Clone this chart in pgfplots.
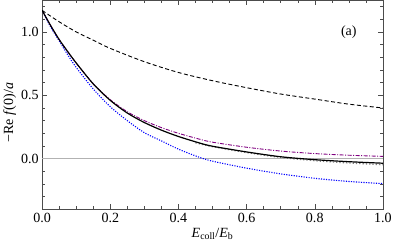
\documentclass[border=0pt]{standalone}
\usepackage{fontspec}
\setmainfont{Liberation Serif}
\usepackage{pgfplots}
\pgfplotsset{compat=1.18}
\definecolor{mmapurple}{rgb}{0.5,0,0.5}
\begin{document}
\begin{tikzpicture}
\begin{axis}[
scale only axis,
width=339bp,height=208bp,
xmin=0,xmax=1,ymin=-0.4,ymax=1.25,
xtick={0,0.2,...,1.0},
minor xtick={0.05,0.1,...,0.95},
ytick={0,0.5,1},
minor ytick={-0.3,-0.2,-0.1,0.1,0.2,0.3,0.4,0.6,0.7,0.8,0.9,1.1,1.2},
tick align=inside,
major tick length=5bp,
minor tick length=3bp,
tick pos=both,
xticklabel pos=bottom,
yticklabel pos=left,
axis line style={black!70,line width=0.5pt},
tick style={black!70,line width=0.4pt},
/pgf/number format/assume math mode=true,
xticklabel style={/pgf/number format/.cd,fixed,fixed zerofill,precision=1},
yticklabel style={/pgf/number format/.cd,fixed,fixed zerofill,precision=1},
ticklabel style={font=\fontsize{14}{16}\selectfont},
label style={font=\fontsize{14}{16}\selectfont},
xlabel={\textit{E}\textsubscript{coll}/\textit{E}\textsubscript{b}},
ylabel={−Re \textit{f}(0)/\textit{a}},
xlabel style={yshift=1bp},
ylabel style={yshift=-2bp,xshift=-8bp},
clip=true,
]
\addplot[gray!60,line width=0.5pt] coordinates {(0,0) (1,0)};
% gray dotted
\addplot[gray,dotted,line width=1.3pt,smooth] coordinates {
(0.45,0.125) (0.5,0.095) (0.6,0.048) (0.7,0.010) (0.8,-0.016) (0.9,-0.034) (1.0,-0.048)};
% blue dotted
\addplot[blue,dash pattern=on 1.1pt off 1.4pt,line width=1.1pt,smooth] coordinates {
(0,1.17) (0.025,1.04) (0.05,0.93) (0.075,0.82) (0.1,0.72) (0.15,0.55) (0.2,0.41)
(0.25,0.30) (0.3,0.205) (0.35,0.14) (0.4,0.075) (0.46,0.012) (0.5,-0.02)
(0.6,-0.075) (0.7,-0.12) (0.8,-0.155) (0.9,-0.18) (1.0,-0.197)};
% purple dash-dot
\addplot[mmapurple,dash pattern=on 4pt off 1.5pt on 1pt off 1.5pt,line width=0.9pt,smooth] coordinates {
(0,1.17) (0.025,1.05) (0.05,0.94) (0.075,0.845) (0.1,0.755) (0.15,0.59) (0.2,0.465)
(0.25,0.37) (0.3,0.30) (0.35,0.245) (0.4,0.20) (0.46,0.155) (0.5,0.13)
(0.6,0.09) (0.7,0.06) (0.8,0.04) (0.9,0.027) (1.0,0.018)};
% dashed
\addplot[black,dash pattern=on 4pt off 2.5pt,line width=0.9pt,smooth] coordinates {
(0,1.17) (0.05,1.08) (0.1,1.00) (0.15,0.935) (0.2,0.87) (0.3,0.765) (0.4,0.68)
(0.5,0.615) (0.6,0.56) (0.7,0.51) (0.8,0.47) (0.9,0.43) (1.0,0.40)};
% solid
\addplot[black,line width=1.2pt,smooth] coordinates {
(0,1.17) (0.025,1.05) (0.05,0.94) (0.075,0.845) (0.1,0.755) (0.15,0.59) (0.2,0.46)
(0.25,0.36) (0.3,0.285) (0.35,0.225) (0.4,0.175) (0.46,0.125) (0.5,0.098)
(0.6,0.053) (0.7,0.015) (0.8,-0.008) (0.9,-0.024) (1.0,-0.036)};
\node[font=\fontsize{14}{16}\selectfont] at (axis cs:0.9,1.0) {(a)};
\end{axis}
\end{tikzpicture}
\end{document}
